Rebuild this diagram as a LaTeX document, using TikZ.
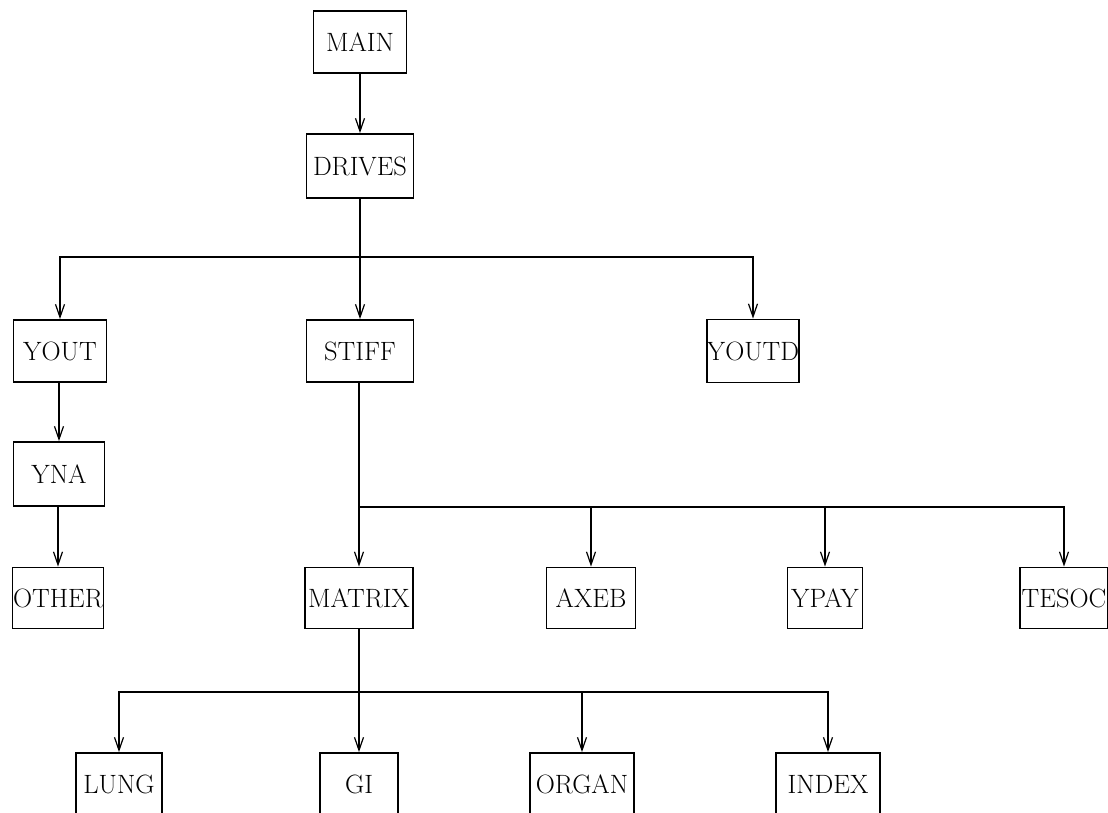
\documentclass[tikz,border=0pt]{standalone}
\usetikzlibrary{arrows.meta}
\begin{document}
\begin{tikzpicture}[x=1pt,y=-1pt,
  box/.style={draw=black,line width=1.8pt,inner sep=0pt,minimum height=62pt,font=\fontsize{26.5}{30}\selectfont},
  arr/.style={line width=1.4pt,-{Straight Barb[length=13pt,width=9pt,line width=1.2pt]}},
  plain/.style={line width=1.4pt}]
\useasboundingbox (0,0) rectangle (1108,813);
% level 0-1
\node[box,minimum width=93pt] (main) at (360,42) {MAIN};
\node[box,minimum width=107pt,minimum height=64pt] (drives) at (360,166) {DRIVES};
% level 2
\node[box,minimum width=93pt] (yout) at (60,351) {YOUT};
\node[box,minimum width=107pt] (stiff) at (360,351) {STIFF};
\node[box,minimum width=91pt,minimum height=63pt] (youtd) at (753,351) {YOUTD};
% left column
\node[box,minimum width=91pt,minimum height=64pt] (yna) at (59,474) {YNA};
\node[box,minimum width=91pt,minimum height=61pt] (other) at (58,598) {OTHER};
% level 3
\node[box,minimum width=108pt,minimum height=61pt] (matrix) at (359,598) {MATRIX};
\node[box,minimum width=89pt,minimum height=61pt] (axeb) at (591,598) {AXEB};
\node[box,minimum width=75pt,minimum height=61pt] (ypay) at (825,598) {YPAY};
\node[box,minimum width=88pt,minimum height=61pt] (tesoc) at (1064,598) {TESOC};
% level 4
\node[box,minimum width=86pt] (lung) at (119,784) {LUNG};
\node[box,minimum width=78pt] (gi) at (359,784) {GI};
\node[box,minimum width=104pt] (organ) at (582,784) {ORGAN};
\node[box,minimum width=104pt] (index) at (828,784) {INDEX};
% branch points
\coordinate (b1) at (360,257);
\coordinate (b2) at (359,507);
\coordinate (b3) at (359,692);
% connectors
\draw[arr] (main) -- (drives);
\draw[arr] (drives) -- (stiff);
\draw[arr] (b1) -| (yout);
\draw[arr] (b1) -| (youtd);
\draw[arr] (yout.south -| yna.north) -- (yna);
\draw[arr] (yna.south -| other.north) -- (other);
\draw[arr] (stiff.south -| matrix.north) -- (matrix);
\draw[arr] (b2) -| (axeb);
\draw[arr] (b2) -| (ypay);
\draw[arr] (b2) -| (tesoc);
\draw[plain] (matrix) -- (b3);
\draw[arr] (b3) -| (lung);
\draw[arr] (b3) -- (gi);
\draw[arr] (b3) -| (organ);
\draw[arr] (b3) -| (index);
\end{tikzpicture}
\end{document}
